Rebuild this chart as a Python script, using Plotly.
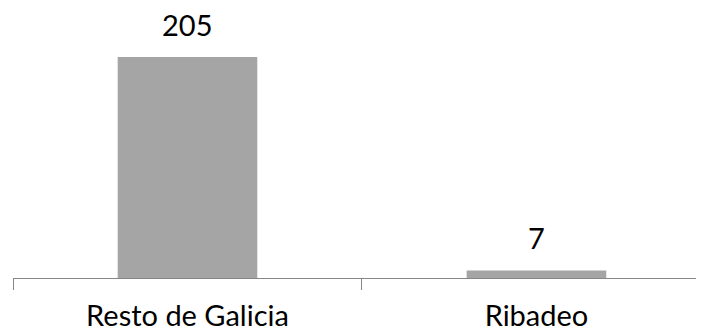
import plotly.graph_objects as go

categories = ["Resto de Galicia", "Ribadeo"]
values = [205, 7]

bar_color = "#A5A5A5"
axis_color = "#868686"
font_family = "Lato, Carlito, Calibri, sans-serif"

fig = go.Figure()
fig.add_trace(go.Bar(
    x=categories,
    y=values,
    marker=dict(color=bar_color, line=dict(width=0)),
    hoverinfo="skip",
))

for c, v in zip(categories, values):
    fig.add_annotation(
        x=c, y=v, text=str(v), showarrow=False,
        xanchor="center", yanchor="bottom", yshift=14, borderpad=0,
        font=dict(family=font_family, size=29, color="#000000"),
    )

fig.update_layout(
    width=704, height=332,
    margin=dict(l=5, r=0, t=2, b=62, autoexpand=False),
    paper_bgcolor="white", plot_bgcolor="white",
    bargap=0.6,
    showlegend=False,
    xaxis=dict(
        type="category",
        range=[-0.5, 1.503],
        automargin=False,
        showline=True, linecolor=axis_color, linewidth=1.2,
        ticks="outside", tickson="boundaries", ticklen=11,
        tickcolor=axis_color, tickwidth=1.2,
        tickfont=dict(family=font_family, size=29, color="#000000"),
        ticklabelstandoff=12,
        showgrid=False, zeroline=False, fixedrange=True,
    ),
    yaxis=dict(
        range=[0, 248.6], visible=False, showgrid=False, zeroline=False,
        fixedrange=True, automargin=False,
    ),
)

fig.write_html("out.html")
